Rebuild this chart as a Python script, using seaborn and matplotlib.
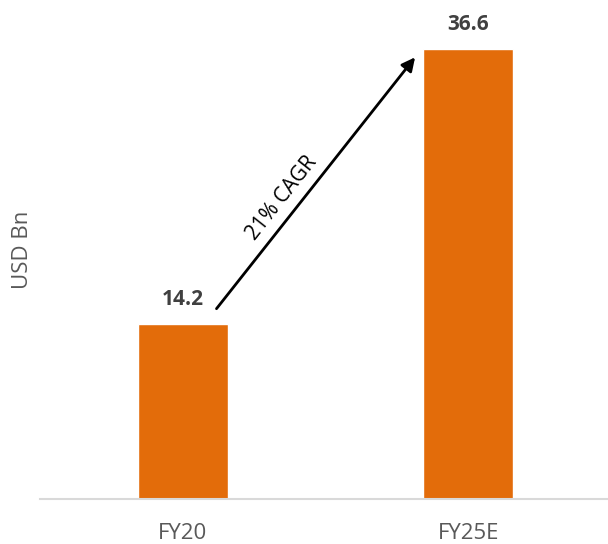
import pandas as pd
import matplotlib.pyplot as plt
import seaborn as sns

# Datos del gráfico
periodos = ['FY20', 'FY25E']
valores = [14.2, 36.6]
etiquetas = ['14.2', '36.6']
texto_cagr = '21% CAGR'

sns.set_style('white')
plt.rcParams['font.family'] = ['Open Sans', 'DejaVu Sans']

datos = pd.DataFrame({'Periodo': periodos, 'Valor': valores})

fig = plt.figure(figsize=(6.08, 5.44), dpi=100)
ax = fig.add_axes([0.066, 0.0827, 0.934, 0.917])

sns.barplot(data=datos, x='Periodo', y='Valor', color='#E36C0A',
            saturation=1, width=0.315, ax=ax)

ax.set_xlim(-0.5, 1.49)
ax.set_ylim(0, 40.57)

# Etiquetas de valor
for i, (v, t) in enumerate(zip(valores, etiquetas)):
    ax.text(i, v + 2.0, t, ha='center', va='center', fontsize=15,
            fontweight='bold', color='#404040')

# Flecha de crecimiento
ax.annotate('', xy=(0.82, 36.1), xytext=(0.112, 15.3),
            arrowprops=dict(arrowstyle='-|>', color='black', lw=2,
                            mutation_scale=20))
ax.text(0.347, 24.5, texto_cagr, rotation=51.7, ha='center', va='center',
        fontsize=15, color='black', rotation_mode='anchor')

# Ejes
for lado in ['top', 'right', 'left']:
    ax.spines[lado].set_visible(False)
ax.spines['bottom'].set_color('#D9D9D9')
ax.spines['bottom'].set_linewidth(1.5)
ax.set_yticks([])
ax.tick_params(axis='x', length=0, pad=17, labelsize=16, labelcolor='#595959')
ax.set_xlabel('')
ax.set_ylabel('USD Bn', fontsize=16, color='#595959')
ax.yaxis.set_label_coords(-0.012, 0.5)

plt.savefig('out.png', dpi=100)
